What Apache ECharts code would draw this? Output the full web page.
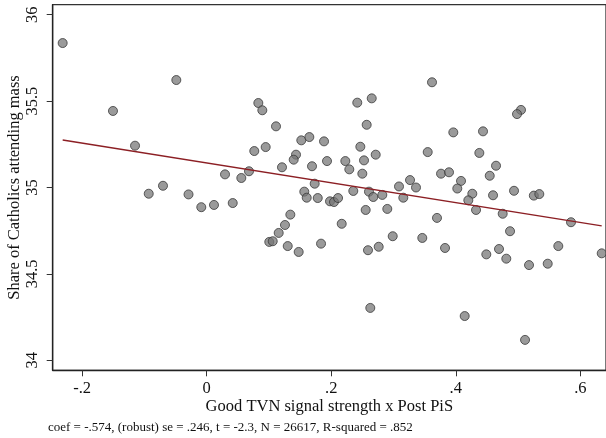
<!DOCTYPE html>
<html>
<head>
<meta charset="utf-8">
<script src="https://cdn.jsdelivr.net/npm/echarts@6/dist/echarts.min.js"></script>
<style>
  html, body { margin: 0; padding: 0; background: #fff; }
  #chart { width: 606px; height: 438px; }
</style>
</head>
<body>
<div id="chart"></div>
<script>
// Binned scatter: TVN signal strength x post-PiS period vs. mass attendance
const xValues = [
  -0.2313, -0.0488, -0.1505, -0.1151, -0.0931, -0.0702, -0.0292, -0.0087, 0.0117, 0.0418,
  0.0294, 0.0556, 0.0679, 0.0829, 0.0893, 0.1113, 0.0764, 0.0947, 0.1519, 0.1648,
  0.1884, 0.1434, 0.1397, 0.1209, 0.1691, 0.1932, 0.2418, 0.2650, 0.2569, 0.2467,
  0.2714, 0.2526, 0.2226, 0.2290, 0.2499, 0.1734, 0.1567, 0.1606, 0.1783, 0.1980,
  0.2044, 0.2109, 0.2354, 0.2606, 0.2675, 0.2820, 0.3088, 0.3157, 0.1343, 0.1257,
  0.1156, 0.1005, 0.1060, 0.1301, 0.1477, 0.1836, 0.2168, 0.2553, 0.2900, 0.2987,
  0.2590, 0.2762, 0.2627, 0.3618, 0.5047, 0.4983, 0.3960, 0.4437, 0.3549, 0.4378,
  0.4646, 0.4545, 0.3763, 0.3891, 0.3265, 0.3361, 0.4084, 0.4024, 0.4265, 0.4598,
  0.4935, 0.5253, 0.5341, 0.4201, 0.4325, 0.4753, 0.3698, 0.5850, 0.4871, 0.3462,
  0.3827, 0.4490, 0.4694, 0.4811, 0.5176, 0.5476, 0.5646, 0.6343, 0.4143, 0.5112
];
const yValues = [
  35.836, 35.622, 35.443, 35.242, 34.964, 35.010, 34.960, 34.886, 34.899, 34.910,
  35.076, 35.055, 35.094, 35.489, 35.447, 35.354, 35.211, 35.234, 35.273, 35.292,
  35.267, 35.190, 35.161, 35.117, 35.123, 35.153, 35.491, 35.516, 35.363, 35.236,
  35.190, 35.157, 35.153, 35.105, 35.080, 35.022, 34.976, 34.941, 34.939, 34.920,
  34.916, 34.939, 34.980, 34.976, 34.945, 34.957, 35.006, 34.941, 34.843, 34.783,
  34.737, 34.685, 34.689, 34.661, 34.627, 34.675, 34.790, 34.870, 34.876, 34.718,
  34.637, 34.657, 34.303, 35.609, 35.449, 35.425, 35.319, 35.325, 35.205, 35.200,
  35.126, 35.068, 35.080, 35.088, 35.043, 35.000, 35.038, 34.994, 34.964, 34.955,
  34.981, 34.953, 34.962, 34.926, 34.870, 34.848, 34.824, 34.799, 34.747, 34.708,
  34.650, 34.613, 34.644, 34.588, 34.551, 34.559, 34.661, 34.619, 34.256, 34.118
];

// Linear fit
const fitSlope = -0.574;
const fitIntercept = 35.142;

// Axis ticks
const xTickValues = [-0.2, 0, 0.2, 0.4, 0.6];
const xTickLabels = ['-.2', '0', '.2', '.4', '.6'];
const yTickValues = [34, 34.5, 35, 35.5, 36];
const yTickLabels = ['34', '34.5', '35', '35.5', '36'];

const xTitle = 'Good TVN signal strength x Post PiS';
const yTitle = 'Share of Catholics attending mass';
const noteText = 'coef = -.574, (robust) se = .246, t = -2.3, N = 26617, R-squared = .852';

const points = xValues.map((x, i) => [x, yValues[i]]);
const xLo = Math.min(...xValues);
const xHi = Math.max(...xValues);
const fitLine = [xLo, xHi].map(x => [x, fitIntercept + fitSlope * x]);

const labelFor = (vals, labels) => v => {
  const i = vals.findIndex(t => Math.abs(t - v) < 1e-9);
  return i >= 0 ? labels[i] : '';
};

const serif = '"Liberation Serif", "DejaVu Serif", serif';
const chart = echarts.init(document.getElementById('chart'), null, { renderer: 'canvas' });

chart.setOption({
  animation: false,
  backgroundColor: '#ffffff',
  title: {
    text: noteText,
    left: 48,
    top: 421,
    padding: 0,
    textStyle: { fontFamily: serif, fontSize: 13, fontWeight: 'normal', color: '#111' }
  },
  grid: {
    left: 52.7,
    right: 0,
    top: 4.7,
    bottom: 67.7,
    show: true,
    borderColor: '#333',
    borderWidth: 1.3,
    containLabel: false,
    outerBoundsMode: 'none'
  },
  xAxis: {
    type: 'value',
    min: -0.2473,
    max: 0.6412,
    name: xTitle,
    nameLocation: 'middle',
    nameGap: 28,
    nameMoveOverlap: false,
    nameTextStyle: { fontFamily: serif, fontSize: 16.5, color: '#111' },
    splitLine: { show: false },
    axisLine: { show: true, onZero: false, lineStyle: { color: '#222', width: 1.3 } },
    axisTick: { show: true, length: 6, customValues: xTickValues, lineStyle: { color: '#333', width: 1 } },
    axisLabel: {
      customValues: xTickValues,
      formatter: labelFor(xTickValues, xTickLabels),
      fontFamily: serif, fontSize: 16.5, color: '#111', margin: 10
    }
  },
  yAxis: {
    type: 'value',
    min: 33.942,
    max: 36.058,
    name: yTitle,
    nameLocation: 'middle',
    nameRotate: 90,
    nameGap: 30,
    nameMoveOverlap: false,
    nameTextStyle: { fontFamily: serif, fontSize: 16.5, color: '#111' },
    splitLine: { show: false },
    axisLine: { show: true, onZero: false, lineStyle: { color: '#222', width: 1.3 } },
    axisTick: { show: true, length: 6, customValues: yTickValues, lineStyle: { color: '#333', width: 1 } },
    axisLabel: {
      customValues: yTickValues,
      formatter: labelFor(yTickValues, yTickLabels),
      rotate: 90,
      fontFamily: serif, fontSize: 16.5, color: '#111', margin: 12
    }
  },
  series: [
    {
      type: 'scatter',
      data: points,
      symbol: 'circle',
      symbolSize: 9,
      itemStyle: { color: 'rgba(118,118,118,0.92)', borderColor: '#3a3a3a', borderWidth: 1 },
      z: 2
    },
    {
      type: 'line',
      data: fitLine,
      symbol: 'none',
      lineStyle: { color: '#8c1f24', width: 1.4 },
      z: 3
    }
  ]
});
</script>
</body>
</html>
